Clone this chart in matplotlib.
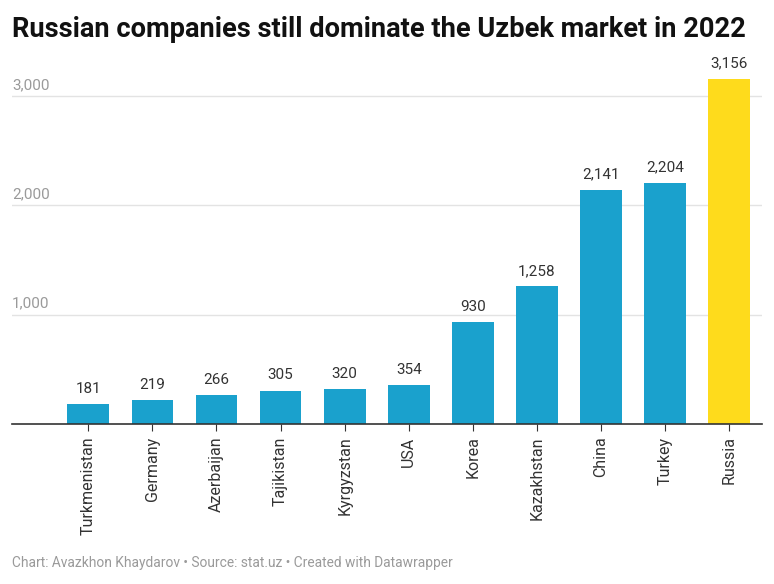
import matplotlib.pyplot as plt

countries = ['Turkmenistan', 'Germany', 'Azerbaijan', 'Tajikistan', 'Kyrgyzstan',
             'USA', 'Korea', 'Kazakhstan', 'China', 'Turkey', 'Russia']
companies = [181, 219, 266, 305, 320, 354, 930, 1258, 2141, 2204, 3156]
grid_values = [1000, 2000, 3000]

plt.rcParams['font.family'] = ['Roboto', 'DejaVu Sans']

W, H = 774, 584
fig = plt.figure(figsize=(W / 100, H / 100), dpi=100)
ax = fig.add_axes([12 / W, 1 - 424 / H, 750 / W, (424 - 63.3) / H])

colors = ['#fedb1c' if c == 'Russia' else '#1aa1cd' for c in countries]
x = range(len(countries))
bars = ax.bar(x, companies, width=0.65, color=colors, zorder=3)

for xi, v in zip(x, companies):
    ax.annotate(f'{v:,}', (xi, v), xytext=(0, 6), textcoords='offset points',
                ha='center', va='bottom', fontsize=11, color='#333333')

ax.set_xlim(-1.19, 10.51)
ax.set_ylim(0, 3300)

for g in grid_values:
    ax.axhline(g, color='#e3e3e3', lw=1, zorder=1)
    ax.annotate(f'{g:,}', (0, g), xycoords=('axes fraction', 'data'),
                xytext=(0, 3), textcoords='offset points',
                ha='left', va='bottom', fontsize=11, color='#9a9a9a')

ax.set_yticks([])
ax.set_xticks(list(x))
ax.set_xticklabels(countries, rotation=90, fontsize=11.5, color='#333333')
ax.tick_params(axis='x', length=5, color='#333333', pad=4)
for s in ['top', 'right', 'left']:
    ax.spines[s].set_visible(False)
ax.spines['bottom'].set_color('#333333')
ax.spines['bottom'].set_linewidth(1.2)
ax.spines['bottom'].set_zorder(4)

fig.text(12 / W, 1 - 37 / H, 'Russian companies still dominate the Uzbek market in 2022',
         fontsize=19.6, fontweight='bold', color='#111111', ha='left', va='baseline')
fig.text(12 / W, 1 - 563 / H,
         'Chart: Avazkhon Khaydarov \u2022 Source: stat.uz \u2022 Created with Datawrapper',
         fontsize=9.9, color='#9a9a9a', ha='left', va='center')

fig.savefig('out.png', dpi=100, facecolor='white')
